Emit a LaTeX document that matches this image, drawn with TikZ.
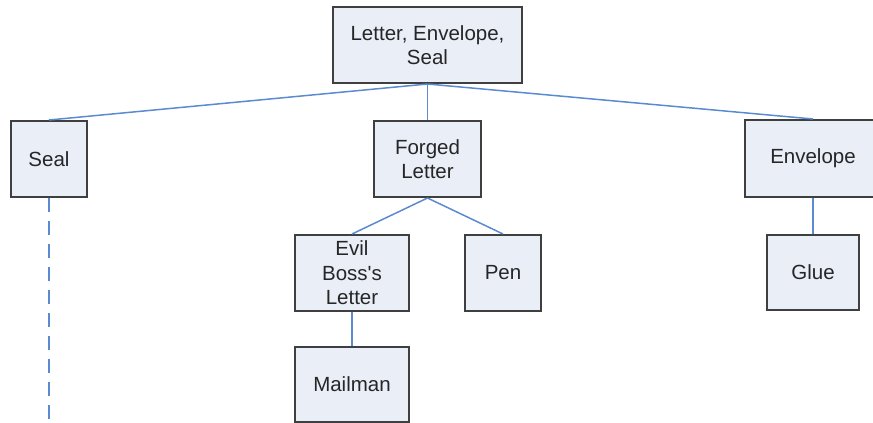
\documentclass[tikz,border=0pt]{standalone}
\usepackage{fontspec}
\setmainfont{Liberation Sans}
\definecolor{boxfill}{HTML}{E9EEF7}
\definecolor{boxline}{HTML}{3F3F3F}
\definecolor{linkblue}{HTML}{5B8AD0}
\begin{document}
\begin{tikzpicture}[x=1pt, y=-1pt,
  item/.style={draw=boxline, line width=2pt, fill=boxfill, inner sep=0pt,
    align=center, font=\fontsize{20.5}{24.5}\selectfont, text=black!85},
  link/.style={draw=linkblue, line width=1.5pt},
  dashlink/.style={draw=linkblue, line width=1.5pt, dash pattern=on 14pt off 9pt}]
  \path[use as bounding box] (0,0) rectangle (873,423);
  \clip (0,0) rectangle (873,423);

  % tree nodes
  \node[item, minimum width=189pt, minimum height=76pt] (root) at (427.5,45) {Letter, Envelope,\\Seal};
  \node[item, minimum width=76pt, minimum height=76pt] (seal) at (49,159) {Seal};
  \node[item, minimum width=107pt, minimum height=76pt] (forged) at (427.5,159) {Forged\\Letter};
  \node[item, minimum width=136pt, minimum height=77pt] (envelope) at (813,158.5) {Envelope};
  \node[item, minimum width=114pt, minimum height=76pt] (boss) at (352,273) {Evil\\Boss\textquotesingle s\\Letter};
  \node[item, minimum width=76pt, minimum height=76pt] (pen) at (503,273) {Pen};
  \node[item, minimum width=92pt, minimum height=75pt] (glue) at (813,272.5) {Glue};
  \node[item, minimum width=114pt, minimum height=75pt] (mailman) at (352,384.5) {Mailman};
  \coordinate (sealend) at (49,423);

  % connectors
  \draw[link] (root.south) -- (seal.north);
  \draw[link] (root.south) -- (forged.north);
  \draw[link] (root.south) -- (envelope.north);
  \draw[link] (forged.south) -- (boss.north);
  \draw[link] (forged.south) -- (pen.north);
  \draw[link] (envelope.south) -- (glue.north);
  \draw[link] (boss.south) -- (mailman.north);
  \draw[dashlink] (seal.south) -- (sealend);
\end{tikzpicture}
\end{document}
